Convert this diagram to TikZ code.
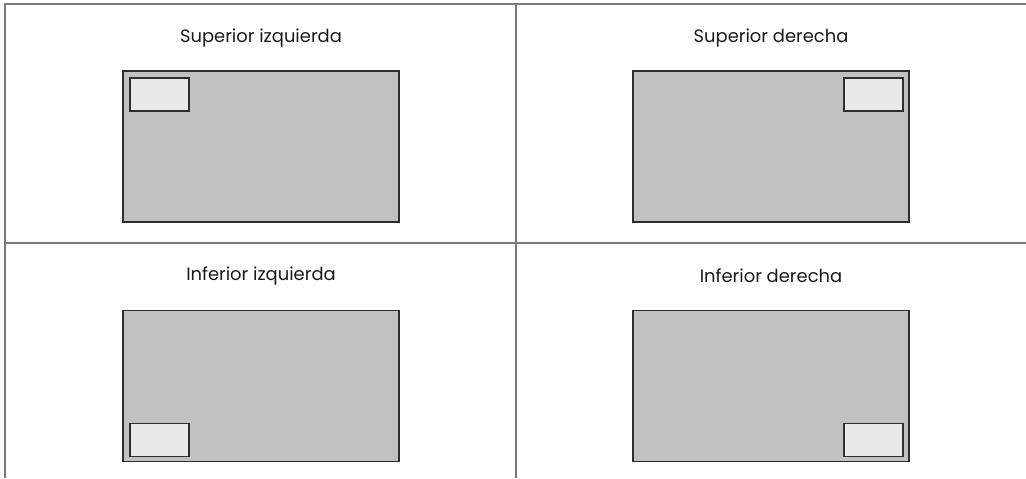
\documentclass[tikz,border=0pt]{standalone}
\usepackage{fontspec}
\setmainfont{Poppins}
\usetikzlibrary{positioning,calc}

\definecolor{gridgray}{HTML}{7A7A7A}
\definecolor{screengray}{HTML}{C1C1C1}
\definecolor{wingray}{HTML}{E8E8E8}
\definecolor{edgedark}{HTML}{2E2E2E}

\tikzset{
    grid line/.style={draw=gridgray, line width=0.04cm},
    screen/.style={draw=edgedark, fill=screengray, line width=0.035cm,
        minimum width=5.52cm, minimum height=3.02cm, inner sep=0pt},
    win/.style={draw=edgedark, fill=wingray, line width=0.03cm,
        minimum width=1.18cm, minimum height=0.66cm, inner sep=0pt},
    caption/.style={font=\fontsize{10.2}{12}\selectfont, text=black!90, inner sep=0pt}
}

\begin{document}
\begin{tikzpicture}[x=0.02cm, y=-0.02cm]

    \useasboundingbox (0,0) rectangle (1026,478);

    % table lines
    \path[grid line] (5,478) -- (5,4) -- (1026,4);
    \path[grid line] (516,4) -- (516,478);
    \path[grid line] (5,243) -- (1026,243);

    % captions
    \node[caption] (captl) at (261,38) {Superior izquierda};
    \node[caption] (captr) at (771,38) {Superior derecha};
    \node[caption] (capbl) at (261,276) {Inferior izquierda};
    \node[caption] (capbr) at (771,276) {Inferior derecha};

    % screens
    \node[screen] (scrtl) at (261,146.5) {};
    \node[screen] (scrtr) at (771,146.5) {};
    \node[screen] (scrbl) at (261,386) {};
    \node[screen] (scrbr) at (771,386) {};

    % position of the small window
    \node[win, anchor=north west] (wintl) at ($(scrtl.north west)+(7,7)$) {};
    \node[win, anchor=north east] (wintr) at ($(scrtr.north east)+(-6,7)$) {};
    \node[win, anchor=south west] (winbl) at ($(scrbl.south west)+(7,-5)$) {};
    \node[win, anchor=south east] (winbr) at ($(scrbr.south east)+(-6,-5)$) {};

\end{tikzpicture}
\end{document}
